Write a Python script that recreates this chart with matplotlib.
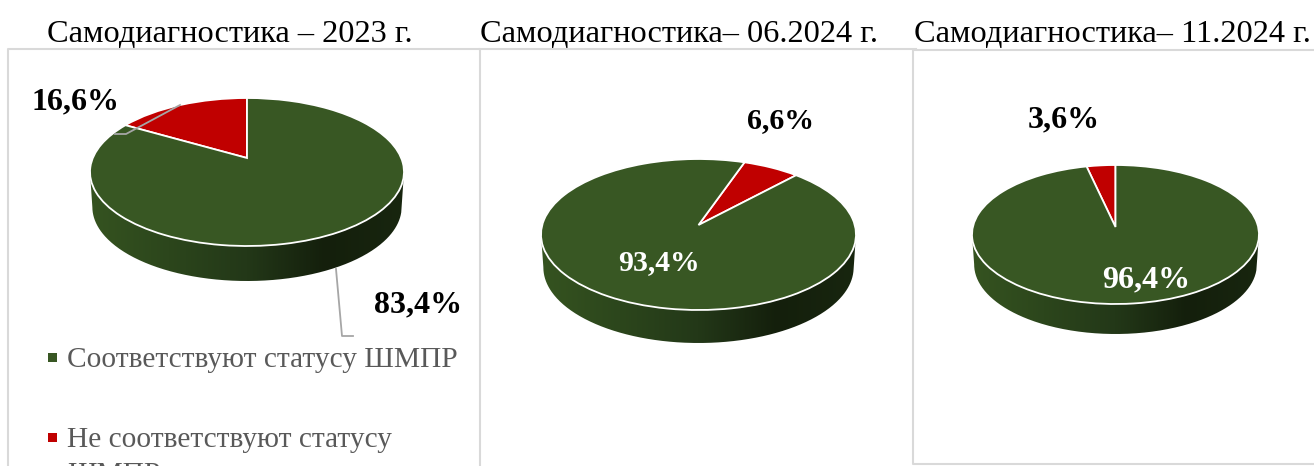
import numpy as np
import matplotlib.pyplot as plt
from matplotlib.path import Path
from matplotlib.patches import PathPatch, Rectangle
from matplotlib.transforms import Transform
from matplotlib.colors import LinearSegmentedColormap

plt.rcParams['font.family'] = ['Liberation Serif', 'DejaVu Serif']

titles = ["Самодиагностика – 2023 г.", "Самодиагностика– 06.2024 г.", "Самодиагностика– 11.2024 г."]
categories = ["Соответствуют статусу ШМПР", "Не соответствуют статусу\nШМПР"]
green_values = [83.4, 93.4, 96.4]
red_values = [16.6, 6.6, 3.6]
green_labels = ["83,4%", "93,4%", "96,4%"]
red_labels = ["16,6%", "6,6%", "3,6%"]

GREEN = "#385723"
RED = "#c00000"
side_cmap = LinearSegmentedColormap.from_list("side", ["#355320", "#2c461c", "#233818", "#141f0c", "#18260f"])


class Tilt(Transform):
    # unit pie -> pixels, circle seen in perspective so the centre sits above the middle
    input_dims = 2
    output_dims = 2
    is_separable = False
    has_inverse = False

    def __init__(self, cx, cy, a, b, k):
        super().__init__()
        self.cx, self.cy, self.a, self.b, self.k = cx, cy, a, b, k

    def transform_non_affine(self, values):
        u, v = values[:, 0], values[:, 1]
        d = 1 + self.k * v
        return np.column_stack([self.cx + self.a * u / d, self.cy - self.b * v / d])


def make_tilt(cx, rx, top, apex, bottom):
    up, down = apex - top, bottom - apex
    k = (down - up) / (down + up)
    return Tilt(cx, apex, rx * np.sqrt(1 - k * k), up * (1 + k), k)


fig = plt.figure(figsize=(13.14, 4.66), dpi=100)
ax = fig.add_axes([0, 0, 1, 1])

# cx, rx, top, apex, bottom, depth, start angle of the red slice
pies = [
    (247, 157, 98, 158, 246, 35, 0),
    (698.5, 157.5, 159, 225, 310, 33, -43),
    (1115.5, 143.5, 165, 227, 304, 30, 0),
]

for i, (cx, rx, top, apex, bottom, depth, start) in enumerate(pies):
    tilt = make_tilt(cx, rx, top, apex, bottom)

    # side wall
    t = np.linspace(0, 2 * np.pi, 721)
    rim = tilt.transform_non_affine(np.column_stack([np.cos(t), np.sin(t)]))
    left, right = rim[:, 0].argmin(), rim[:, 0].argmax()
    lo = rim[min(left, right):max(left, right) + 1]
    if lo[:, 1].mean() < apex:
        lo = np.vstack([rim[max(left, right):], rim[:min(left, right) + 1]])
    lo = lo[np.argsort(lo[:, 0])]
    low = lo.copy()
    low[:, 0] = cx + (low[:, 0] - cx) * 0.985
    low[:, 1] += depth
    wall = np.vstack([lo, low[::-1]])
    im = ax.imshow(np.linspace(0, 1, 256)[None, :], cmap=side_cmap, aspect='auto',
                   extent=(cx - rx, cx + rx, bottom + depth + 2, lo[:, 1].min() - 2), zorder=1)
    im.set_clip_path(PathPatch(Path(wall), transform=ax.transData))

    # top face
    wedges, _ = ax.pie([red_values[i], green_values[i]], colors=[RED, GREEN], startangle=90 + start,
                       wedgeprops={'edgecolor': 'white', 'linewidth': 1.3, 'zorder': 2})
    for w in wedges:
        w.set_transform(tilt + ax.transData)
        w.set_clip_on(False)

ax.set_aspect('auto')
ax.set_xlim(0, 1314)
ax.set_ylim(466, 0)
ax.axis('off')

# panel frames
frame = "#d9d9d9"
ax.plot([8, 8, 480, 480], [468, 49, 49, 468], color=frame, lw=1.5, zorder=0)
ax.plot([480, 916], [49, 49], color=frame, lw=1.5, zorder=0)
ax.plot([1316, 913, 913, 1316], [49.5, 49.5, 464, 464], color=frame, lw=1.5, zorder=0)

for x, title in zip([47, 480, 914], titles):
    ax.text(x, 42, title, fontsize=23.3, color='black', va='baseline', ha='left')

# data labels
ax.text(32, 109, red_labels[0], fontsize=23, fontweight='bold', va='baseline')
ax.text(374, 312, green_labels[0], fontsize=23, fontweight='bold', va='baseline')
ax.text(747, 128, red_labels[1], fontsize=21.5, fontweight='bold', va='baseline')
ax.text(618, 270, green_labels[1], fontsize=21.4, fontweight='bold', color='white', va='baseline', zorder=5)
ax.text(1028, 127, red_labels[2], fontsize=23, fontweight='bold', va='baseline')
ax.text(1102, 287, green_labels[2], fontsize=23, fontweight='bold', color='white', va='baseline', zorder=5)

# leader lines
ax.plot([180, 126, 115], [105, 134, 134], color='#a6a6a6', lw=1.3, zorder=4)
ax.plot([336, 342, 353], [269, 336, 336], color='#a6a6a6', lw=1.3, zorder=4)

# legend
for y, color, label in zip([367, 447], [GREEN, RED], categories):
    ax.add_patch(Rectangle((48, y - 14), 9, 9, color=color, lw=0))
    ax.text(67, y, label.split("\n")[0], fontsize=21.15, color='#595959', ha='left', va='baseline')
ax.text(67, 481.5, categories[1].split("\n")[1], fontsize=21.15, color='#595959', ha='left', va='baseline')

fig.savefig("out.png", dpi=100)
plt.close(fig)
